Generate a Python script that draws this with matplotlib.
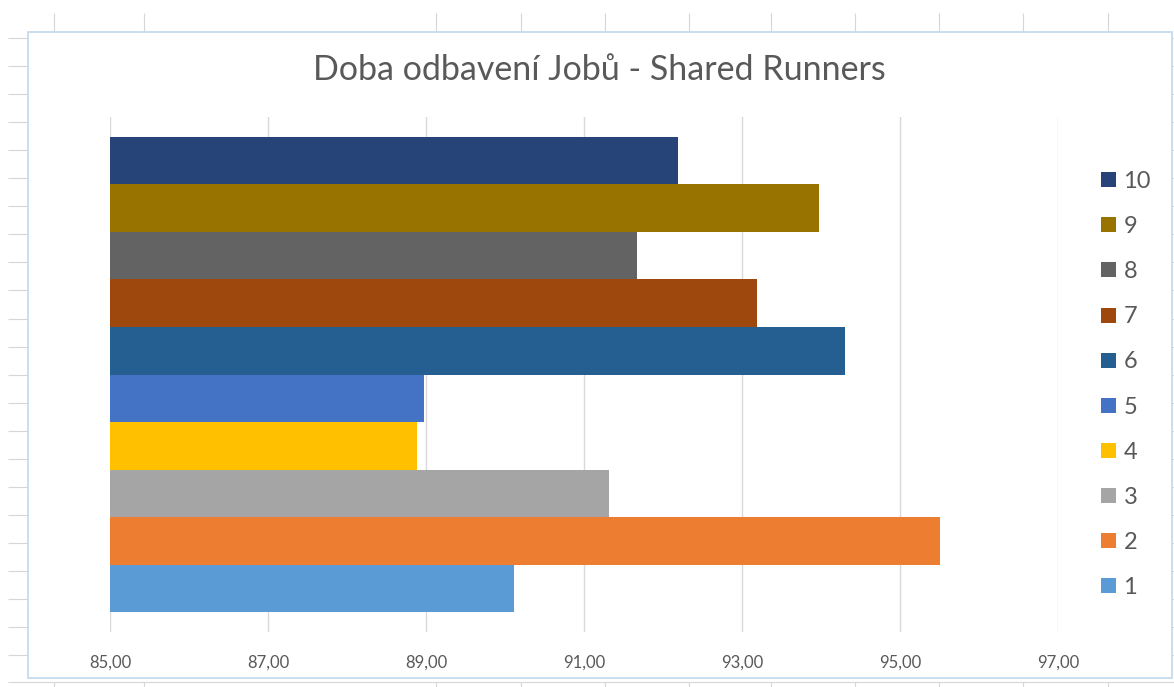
import matplotlib
matplotlib.use("Agg")
import matplotlib.pyplot as plt
from matplotlib.lines import Line2D
from matplotlib.patches import Rectangle
from matplotlib.ticker import FuncFormatter

# ---- data ----
categories = ['1', '2', '3', '4', '5', '6', '7', '8', '9', '10']
values = [90.11, 95.51, 91.32, 88.89, 88.97, 94.30, 93.19, 91.67, 93.97, 92.19]
colors = ['#5B9BD5', '#ED7D31', '#A5A5A5', '#FFC000', '#4472C4',
          '#255E91', '#9E480E', '#636363', '#997300', '#264478']
xticks = [85, 87, 89, 91, 93, 95, 97]
title = 'Doba odbavení Jobů - Shared Runners'

W, H = 1174, 687
plt.rcParams['font.family'] = ['Lato', 'DejaVu Sans']
fig = plt.figure(figsize=(W / 100, H / 100), dpi=100)
fig.patch.set_facecolor('white')

def fx(x):
    return x / W

def fy(y):
    return 1 - y / H

def pline(x0, y0, x1, y1, color='#d6d6d6', lw=0.8):
    fig.add_artist(Line2D([fx(x0), fx(x1)], [fy(y0), fy(y1)],
                          transform=fig.transFigure, color=color, lw=lw,
                          solid_capstyle='butt', zorder=-1))

# ---- spreadsheet background grid (outside chart) ----
cols = [54, 144, 436, 521, 605, 689, 771, 855, 939, 1023, 1108]
for cx in cols:
    pline(cx, 13, cx, 32)
    pline(cx, 682, cx, 687)
pline(8, 682, W, 682)
for k in range(23):
    ry = 38 + 28.05 * k
    pline(8, ry, 28, ry)
    pline(1172, ry, W, ry)

# ---- chart area border ----
fig.add_artist(Rectangle((fx(27.7), fy(678)), fx(1171.7) - fx(27.7), fy(32) - fy(678),
                         transform=fig.transFigure, fill=False,
                         edgecolor='#c6dcf0', lw=1.3, zorder=-1))

# ---- plot area ----
left, right, top, bottom = 110, 1058, 117, 632
ax = fig.add_axes([fx(left), fy(bottom), fx(right) - fx(left), fy(top) - fy(bottom)])
ax.set_facecolor('none')

positions = list(range(len(categories)))
bars = ax.barh(positions, values, height=1.0, color=colors, linewidth=0, zorder=3)

pad = 0.41
ax.set_ylim(-0.5 - pad, len(categories) - 0.5 + pad)
ax.set_xlim(xticks[0], xticks[-1])
ax.set_xticks(xticks)
ax.xaxis.set_major_formatter(FuncFormatter(lambda v, p: f'{v:.2f}'.replace('.', ',')))
ax.grid(axis='x', color='#d9d9d9', lw=1.0, zorder=0)
ax.set_axisbelow(True)
ax.set_yticks([])
for s in ax.spines.values():
    s.set_visible(False)
ax.tick_params(axis='x', length=0, pad=16.5, labelsize=12, labelcolor='#595959')

# ---- title ----
fig.text(fx(599), fy(70), title, ha='center', va='center', fontsize=24.5, color='#595959')

# ---- legend ----
handles = [bars[i] for i in reversed(positions)]
labels = [categories[i] for i in reversed(positions)]
leg = fig.legend(handles, labels, loc='center left',
                 bbox_to_anchor=(fx(1101), fy(384.5)), bbox_transform=fig.transFigure,
                 frameon=False, fontsize=17, handlelength=0.65, handleheight=0.6,
                 handletextpad=0.3, labelspacing=1.02, borderpad=0, borderaxespad=0,
                 labelcolor='#595959')

fig.savefig('out.png', dpi=100, facecolor='white')
